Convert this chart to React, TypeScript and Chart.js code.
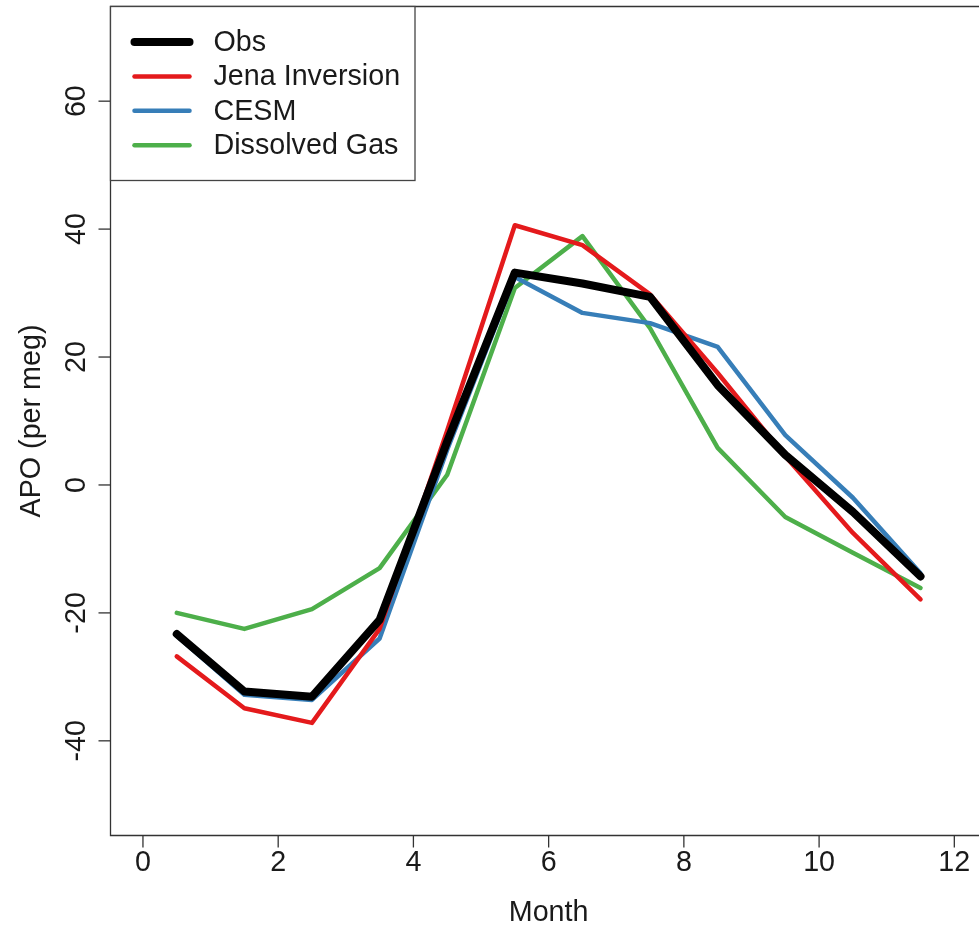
import React, { useEffect, useRef } from "react";
import { Chart, registerables } from "chart.js";

Chart.register(...registerables);

// Monthly mean APO seasonal cycle (mid-month positions)
const months = [0.5, 1.5, 2.5, 3.5, 4.5, 5.5, 6.5, 7.5, 8.5, 9.5, 10.5, 11.5];
const obs = [-23.3, -32.3, -33.1, -21.1, 6.8, 33.2, 31.5, 29.4, 15.6, 4.7, -4.2, -14.3];
const jena = [-26.8, -34.9, -37.2, -22.5, 8.5, 40.6, 37.5, 29.8, 17.5, 4.5, -7.5, -17.9];
const cesm = [-23.6, -32.8, -33.6, -24.0, 5.5, 32.5, 26.9, 25.3, 21.6, 7.8, -2.0, -13.8];
const dissolved = [-20.0, -22.5, -19.4, -13.0, 1.6, 30.8, 38.9, 24.5, 5.8, -5.0, -10.6, -16.1];

const seriesNames = ["Obs", "Jena Inversion", "CESM", "Dissolved Gas"];
const seriesData = [obs, jena, cesm, dissolved];
const seriesColors = ["#000000", "#E41A1C", "#377EB8", "#4DAF4A"];
const seriesWidths = [8, 4.5, 4.5, 4.5];

const xTicks = [0, 2, 4, 6, 8, 10, 12];
const yTicks = [-40, -20, 0, 20, 40, 60];
const xTitle = "Month";
const yTitle = "APO (per meg)";

const FONT = '28.7px "Liberation Sans", Arial, Helvetica, sans-serif';
const TEXT = "#1a1a1a";
const AXIS = "#333333";

// Frame, axes, labels and legend in the base-graphics style
const framePlugin = {
  id: "frame",
  afterDraw(chart: any) {
    const ctx = chart.ctx as CanvasRenderingContext2D;
    const { left, top, bottom } = chart.chartArea;
    const xs = chart.scales.x;
    const ys = chart.scales.y;
    ctx.save();

    // plot box (right edge lies past the canvas)
    ctx.strokeStyle = AXIS;
    ctx.lineWidth = 1.3;
    ctx.beginPath();
    ctx.moveTo(chart.width + 5, top);
    ctx.lineTo(left, top);
    ctx.lineTo(left, bottom);
    ctx.lineTo(chart.width + 5, bottom);
    ctx.stroke();

    ctx.fillStyle = TEXT;
    ctx.font = FONT;

    // x axis ticks and labels
    ctx.textAlign = "center";
    ctx.textBaseline = "middle";
    for (const t of xTicks) {
      const px = xs.getPixelForValue(t);
      ctx.beginPath();
      ctx.moveTo(px, bottom);
      ctx.lineTo(px, bottom + 12);
      ctx.stroke();
      ctx.fillText(String(t), px, bottom + 28);
    }
    ctx.fillText(xTitle, (xs.getPixelForValue(0) + xs.getPixelForValue(12)) / 2, bottom + 78);

    // y axis ticks and rotated labels
    for (const t of yTicks) {
      const py = ys.getPixelForValue(t);
      ctx.beginPath();
      ctx.moveTo(left, py);
      ctx.lineTo(left - 12, py);
      ctx.stroke();
      ctx.save();
      ctx.translate(left - 33, py);
      ctx.rotate(-Math.PI / 2);
      ctx.fillText(String(t), 0, 0);
      ctx.restore();
    }
    ctx.save();
    ctx.translate(left - 78, (top + bottom) / 2);
    ctx.rotate(-Math.PI / 2);
    ctx.fillText(yTitle, 0, 0);
    ctx.restore();

    // legend in the top-left corner
    const lx0 = left;
    const ly0 = top;
    const lw = 304.5;
    const lh = 174;
    ctx.fillStyle = "#ffffff";
    ctx.fillRect(lx0, ly0, lw, lh);
    ctx.strokeStyle = "#444444";
    ctx.lineWidth = 1.3;
    ctx.strokeRect(lx0, ly0, lw, lh);
    ctx.textAlign = "left";
    ctx.lineCap = "round";
    seriesNames.forEach((name, i) => {
      const y = ly0 + 35.5 + i * 34.4;
      ctx.strokeStyle = seriesColors[i];
      ctx.lineWidth = seriesWidths[i];
      ctx.beginPath();
      ctx.moveTo(lx0 + 24, y);
      ctx.lineTo(lx0 + 79, y);
      ctx.stroke();
      ctx.fillStyle = TEXT;
      ctx.fillText(name, lx0 + 103, y + 1);
    });

    ctx.restore();
  },
};

export default function App() {
  const ref = useRef<HTMLCanvasElement | null>(null);

  useEffect(() => {
    document.body.style.margin = "0";
    document.body.style.background = "#ffffff";
    if (!ref.current) return;
    const chart = new Chart(ref.current, {
      type: "line",
      data: {
        datasets: seriesNames.map((name, i) => ({
          label: name,
          data: months.map((m, j) => ({ x: m, y: seriesData[i][j] })),
          borderColor: seriesColors[i],
          backgroundColor: seriesColors[i],
          borderWidth: seriesWidths[i],
          borderCapStyle: "round" as const,
          borderJoinStyle: "round" as const,
          pointRadius: 0,
          tension: 0,
          fill: false,
        })),
      },
      options: {
        animation: false,
        responsive: false,
        events: [],
        layout: { padding: { left: 110.5, top: 6.5, right: 0, bottom: 93.5 } },
        scales: {
          x: { type: "linear", min: -0.48, max: 12.365, display: false },
          y: { type: "linear", min: -54.8, max: 74.8, display: false },
        },
        plugins: {
          legend: { display: false },
          tooltip: { enabled: false },
          title: { display: false },
        },
      },
      plugins: [framePlugin],
    });
    return () => chart.destroy();
  }, []);

  return (
    <div style={{ width: 979, height: 929, background: "#ffffff" }}>
      <canvas ref={ref} width={979} height={929} style={{ display: "block" }} />
    </div>
  );
}
